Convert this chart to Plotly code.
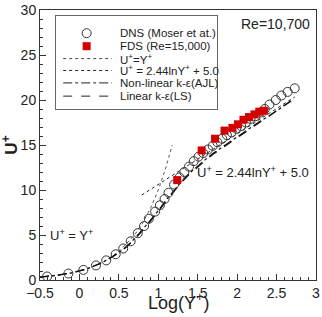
import plotly.graph_objects as go

# DNS (Moser et al.)
dns_x = [-0.41, -0.14, 0.05, 0.21, 0.34, 0.46, 0.555, 0.65, 0.74, 0.82, 0.88, 0.96, 1.02, 1.08,
         1.13, 1.2, 1.27, 1.33, 1.39, 1.45, 1.51, 1.57, 1.63, 1.69, 1.75, 1.81, 1.87, 1.93, 1.99,
         2.05, 2.11, 2.17, 2.23, 2.29, 2.35, 2.41, 2.49, 2.56, 2.64, 2.73]
dns_y = [0.39, 0.72, 1.12, 1.62, 2.18, 2.86, 3.5, 4.3, 5.2, 6.0, 6.8, 7.6, 8.3, 9.0,
         9.7, 10.6, 11.4, 12.0, 12.6, 13.2, 13.7, 14.1, 14.5, 14.9, 15.3, 15.7, 16.1, 16.4, 16.8,
         17.1, 17.5, 17.9, 18.2, 18.6, 19.0, 19.5, 20.0, 20.5, 20.9, 21.3]

# FDS (Re=15,000)
fds_x = [1.24, 1.55, 1.72, 1.84, 1.94, 2.01, 2.08, 2.15, 2.22, 2.28, 2.34]
fds_y = [11.1, 14.4, 15.7, 16.6, 16.9, 17.3, 17.8, 18.1, 18.4, 18.7, 18.8]

# U+ = Y+ (viscous sublayer)
visc_x = [-0.5, -0.3, -0.1, 0.1, 0.3, 0.5, 0.7, 0.8, 0.9, 1.0, 1.1, 1.176]
visc_y = [0.32, 0.50, 0.79, 1.26, 2.0, 3.16, 5.01, 6.31, 7.94, 10.0, 12.59, 15.0]

# U+ = 2.44 lnY+ + 5.0 (log law)
log_x = [0.79, 2.73]
log_y = [9.44, 20.34]

# Non-linear k-e (AJL)
ajl_x = [-0.5, -0.3, -0.1, 0.1, 0.3, 0.5, 0.6, 0.7, 0.8, 0.9, 1.0, 1.1, 1.2, 1.3, 1.4, 1.5, 1.6,
         1.7, 1.8, 1.9, 2.0, 2.1, 2.2, 2.3, 2.4, 2.5, 2.6, 2.7]
ajl_y = [0.32, 0.50, 0.79, 1.25, 1.97, 3.05, 3.75, 4.6, 5.6, 6.6, 7.7, 8.9, 10.0, 11.0, 11.9, 12.7,
         13.4, 14.1, 14.7, 15.3, 15.9, 16.5, 17.1, 17.7, 18.2, 18.8, 19.4, 20.0]

# Linear k-e (LS)
ls_x = [-0.5, -0.3, -0.1, 0.1, 0.3, 0.5, 0.6, 0.7, 0.8, 0.9, 1.0, 1.1, 1.2, 1.3, 1.4, 1.5, 1.6,
        1.7, 1.8, 1.9, 2.0, 2.1, 2.2, 2.3, 2.4, 2.5, 2.6, 2.7]
ls_y = [0.32, 0.50, 0.79, 1.25, 1.96, 3.0, 3.7, 4.5, 5.5, 6.5, 7.6, 8.8, 9.9, 10.9, 11.8, 12.6,
        13.3, 14.0, 14.6, 15.2, 15.8, 16.4, 17.0, 17.6, 18.2, 18.8, 19.4, 20.0]

legend_names = ["DNS (Moser et at.)", "FDS (Re=15,000)", "U<sup>+</sup>=Y<sup>+</sup>",
                "U<sup>+</sup> = 2.44lnY<sup>+</sup> + 5.0", "Non-linear k-ε(AJL)", "Linear k-ε(LS)"]

dark = "#333333"
red = "#d40000"
fig = go.Figure()
fig.add_trace(go.Scatter(x=visc_x, y=visc_y, mode="lines", name=legend_names[2],
                         line=dict(color="#555555", width=1, dash="dot")))
fig.add_trace(go.Scatter(x=log_x, y=log_y, mode="lines", name=legend_names[3],
                         line=dict(color="#222222", width=1, dash="dot")))
fig.add_trace(go.Scatter(x=ajl_x, y=ajl_y, mode="lines", name=legend_names[4],
                         line=dict(color="#111111", width=1.2, dash="dashdot")))
fig.add_trace(go.Scatter(x=ls_x, y=ls_y, mode="lines", name=legend_names[5],
                         line=dict(color="#111111", width=1.2, dash="dash")))
fig.add_trace(go.Scatter(x=dns_x, y=dns_y, mode="markers", name=legend_names[0],
                         marker=dict(symbol="circle-open", size=9, color=dark, line=dict(width=1))))
fig.add_trace(go.Scatter(x=fds_x, y=fds_y, mode="markers", name=legend_names[1],
                         marker=dict(symbol="square", size=8, color=red)))

axis_common = dict(showline=True, linecolor=dark, linewidth=1, mirror=True, showgrid=False,
                   zeroline=False, ticks="inside", ticklen=6, tickcolor=dark, automargin=False,
                   tickfont=dict(size=14, color="#222222"))
fig.update_xaxes(range=[-0.5, 3], dtick=0.5, tick0=-0.5,
                 minor=dict(dtick=0.1, ticks="inside", ticklen=3, tickcolor=dark),
                 **axis_common)
fig.update_yaxes(range=[0, 30], dtick=5,
                 minor=dict(dtick=1, ticks="inside", ticklen=3, tickcolor=dark),
                 **axis_common)

# axis titles
fig.add_annotation(xref="paper", yref="paper", x=0.5, y=-0.03, yanchor="top",
                   text="Log(Y<sup>+</sup>)", showarrow=False, font=dict(size=18, color="#222222"))
fig.add_annotation(xref="paper", yref="paper", x=-0.11, y=0.5, xanchor="center", textangle=-90,
                   text="<b>U<sup>+</sup></b>", showarrow=False, font=dict(size=17, color="#222222"))

fig.add_annotation(x=-0.095, y=5.0, text="U<sup>+</sup> = Y<sup>+</sup>", showarrow=False,
                   font=dict(size=13, color="#222222"))
fig.add_annotation(x=2.2, y=12.0, text="U<sup>+</sup> = 2.44lnY<sup>+</sup> + 5.0", showarrow=False,
                   font=dict(size=13, color="#222222"))
fig.add_annotation(x=2.49, y=28.4, text="Re=10,700", showarrow=False,
                   font=dict(size=14, color="#222222"))

# ---- hand-built legend box (paper coordinates) ----
W, H = 276.0, 270.0
fig.add_annotation(xref="paper", yref="paper", x=0.054, y=0.981, xanchor="left", yanchor="top",
                   text=" ", showarrow=False, width=161, height=93, bordercolor="#666666",
                   borderwidth=1, borderpad=0, bgcolor="rgba(255,255,255,0)")
rows = [0.914, 0.866, 0.82, 0.776, 0.73, 0.681]
sym_cx = 0.169
line_x0, line_x1 = 0.084, 0.26
text_x = 0.283
r = 4.5
fig.add_shape(type="circle", xref="paper", yref="paper", layer="above",
              x0=sym_cx - r / W, x1=sym_cx + r / W, y0=rows[0] - r / H, y1=rows[0] + r / H,
              line=dict(color=dark, width=1), fillcolor="white")
s = 4
fig.add_shape(type="rect", xref="paper", yref="paper", layer="above",
              x0=sym_cx - s / W, x1=sym_cx + s / W, y0=rows[1] - s / H, y1=rows[1] + s / H,
              line=dict(color=red, width=0), fillcolor=red)
line_styles = [("#444444", "dot"), ("#222222", "dot"), ("#222222", "dashdot"), ("#222222", "dash")]
for i, (c, d) in enumerate(line_styles):
    yy = rows[2 + i]
    fig.add_shape(type="line", xref="paper", yref="paper", layer="above",
                  x0=line_x0, x1=line_x1, y0=yy, y1=yy, line=dict(color=c, width=1, dash=d))
for name, yy in zip(legend_names, rows):
    fig.add_annotation(xref="paper", yref="paper", x=text_x, y=yy, text=name, showarrow=False,
                       xanchor="left", yanchor="middle", font=dict(size=11.5, color="#222222"))

fig.update_layout(
    width=322, height=317,
    margin=dict(l=40, r=6, t=10, b=37),
    paper_bgcolor="white", plot_bgcolor="white",
    font=dict(family="Liberation Sans, Arial, sans-serif", color="#222222"),
    showlegend=False,
)
fig.write_html("out.html")
